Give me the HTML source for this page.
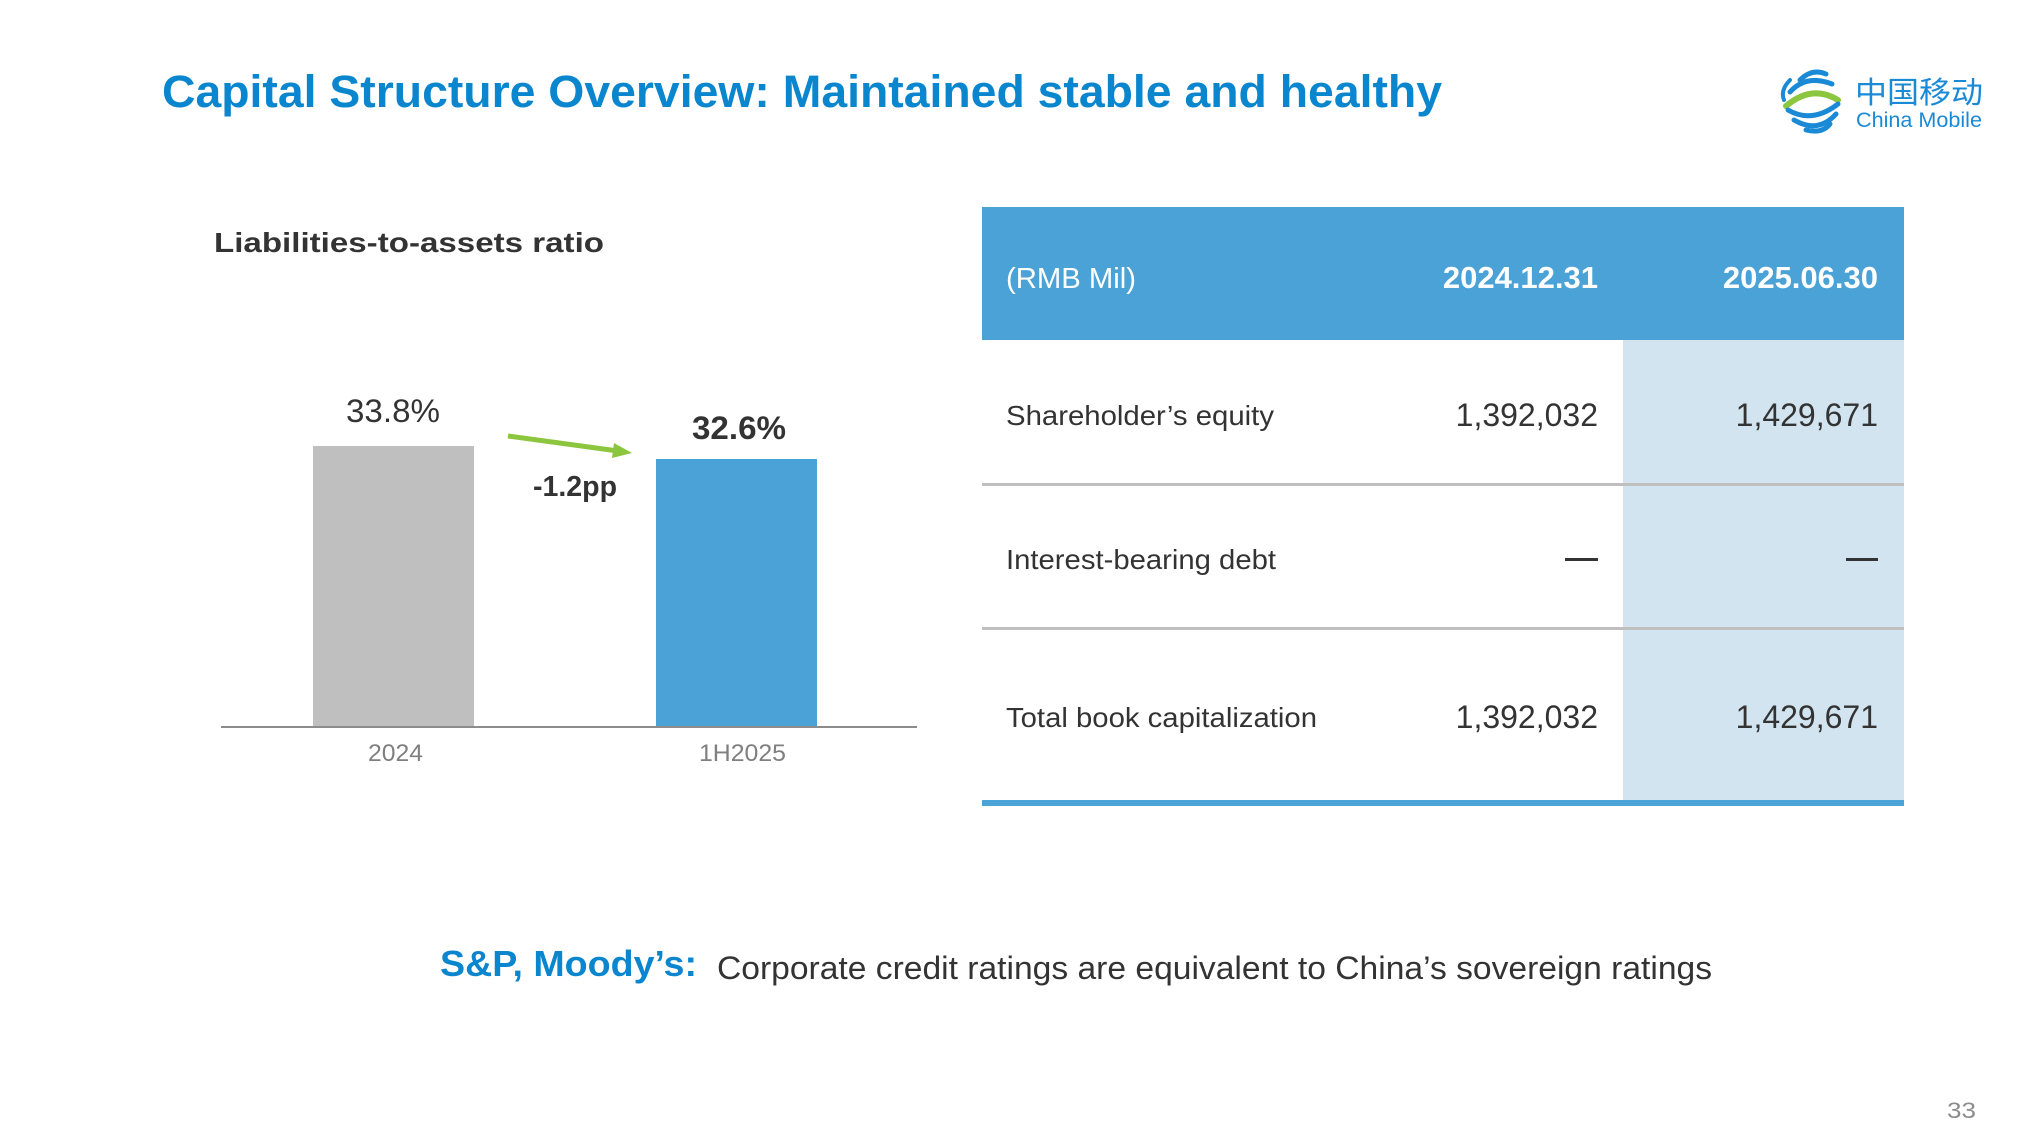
<!DOCTYPE html>
<html><head><meta charset="utf-8"><style>
html,body{margin:0;padding:0;background:#fff;}
svg{display:block;}
text{font-family:"Liberation Sans",Arial,sans-serif;}
</style></head><body>
<svg width="2038" height="1146" viewBox="0 0 2038 1146" xmlns="http://www.w3.org/2000/svg">
<rect width="2038" height="1146" fill="#fff"/>
<text x="162" y="107" font-size="45" font-weight="bold" fill="#0a86cf" textLength="1280" lengthAdjust="spacingAndGlyphs">Capital Structure Overview: Maintained stable and healthy</text>

<!-- logo -->
<g fill="none" stroke-linecap="round">
<path d="M1800 80 Q1812 68 1826 74" stroke="#1a8ad6" stroke-width="5"/>
<path d="M1790 92 Q1806 74 1832 84" stroke="#1a8ad6" stroke-width="5"/>
<path d="M1786 106 Q1812 84 1838 100" stroke="#8cc63f" stroke-width="6"/>
<path d="M1788 110 Q1812 124 1838 104" stroke="#1a8ad6" stroke-width="5"/>
<path d="M1794 120 Q1818 134 1836 114" stroke="#1a8ad6" stroke-width="5"/>
<path d="M1806 130 Q1822 134 1830 124" stroke="#1a8ad6" stroke-width="5"/>
<path d="M1784 100 Q1780 90 1790 80" stroke="#1a8ad6" stroke-width="4"/>
</g>
<text x="1855" y="103" font-size="30" fill="#1a8ad6" font-family="'Noto Sans CJK SC',sans-serif" textLength="128" lengthAdjust="spacingAndGlyphs">中国移动</text>
<text x="1856" y="127" font-size="21" fill="#1a8ad6" textLength="126" lengthAdjust="spacingAndGlyphs">China Mobile</text>

<!-- chart -->
<text x="214" y="252" font-size="28" font-weight="bold" fill="#333" textLength="390" lengthAdjust="spacingAndGlyphs">Liabilities-to-assets ratio</text>
<rect x="313" y="446" width="161" height="281" fill="#bfbfbf"/>
<rect x="656" y="459" width="161" height="268" fill="#4ba2d7"/>
<line x1="221" y1="727" x2="917" y2="727" stroke="#8c8c8c" stroke-width="2"/>
<text x="346" y="422" font-size="32" fill="#333" textLength="94" lengthAdjust="spacingAndGlyphs">33.8%</text>
<text x="692" y="439" font-size="32" font-weight="bold" fill="#333" textLength="94" lengthAdjust="spacingAndGlyphs">32.6%</text>
<text x="533" y="496" font-size="29" font-weight="bold" fill="#333" textLength="84" lengthAdjust="spacingAndGlyphs">-1.2pp</text>
<line x1="508" y1="436" x2="618" y2="451" stroke="#8cc63f" stroke-width="5"/>
<polygon points="614,443 632,453 612,458" fill="#8cc63f"/>
<text x="368" y="761" font-size="24" fill="#7f7f7f" textLength="55" lengthAdjust="spacingAndGlyphs">2024</text>
<text x="699" y="761" font-size="24" fill="#7f7f7f" textLength="87" lengthAdjust="spacingAndGlyphs">1H2025</text>

<!-- table -->
<rect x="982" y="207" width="922" height="133" fill="#4ba2d7"/>
<rect x="1623" y="340" width="281" height="461" fill="#d2e4f0"/>
<rect x="982" y="483" width="922" height="3" fill="#bfbfbf"/>
<rect x="982" y="627" width="922" height="3" fill="#bfbfbf"/>
<rect x="982" y="800" width="922" height="6" fill="#4ba2d7"/>
<text x="1006" y="288" font-size="29" fill="#fff" textLength="130" lengthAdjust="spacingAndGlyphs">(RMB Mil)</text>
<text x="1598" y="288" font-size="31" font-weight="bold" fill="#fff" text-anchor="end">2024.12.31</text>
<text x="1878" y="288" font-size="31" font-weight="bold" fill="#fff" text-anchor="end">2025.06.30</text>
<text x="1006" y="425" font-size="28" fill="#333" textLength="268" lengthAdjust="spacingAndGlyphs">Shareholder’s equity</text>
<text x="1598" y="426" font-size="32" fill="#333" text-anchor="end">1,392,032</text>
<text x="1878" y="426" font-size="32" fill="#333" text-anchor="end">1,429,671</text>
<text x="1006" y="569" font-size="28" fill="#333" textLength="270" lengthAdjust="spacingAndGlyphs">Interest-bearing debt</text>
<rect x="1565" y="558" width="33" height="3" fill="#333"/>
<rect x="1846" y="558" width="32" height="3" fill="#333"/>
<text x="1006" y="727" font-size="28" fill="#333" textLength="311" lengthAdjust="spacingAndGlyphs">Total book capitalization</text>
<text x="1598" y="728" font-size="32" fill="#333" text-anchor="end">1,392,032</text>
<text x="1878" y="728" font-size="32" fill="#333" text-anchor="end">1,429,671</text>

<!-- footer -->
<text x="440" y="976" font-size="36" font-weight="bold" fill="#0a86cf" textLength="257" lengthAdjust="spacingAndGlyphs">S&amp;P, Moody’s:</text>
<text x="717" y="979" font-size="32" fill="#333" textLength="995" lengthAdjust="spacingAndGlyphs">Corporate credit ratings are equivalent to China’s sovereign ratings</text>
<text x="1947" y="1118" font-size="22" fill="#8c8c8c" textLength="29" lengthAdjust="spacingAndGlyphs">33</text>
</svg>
</body></html>
